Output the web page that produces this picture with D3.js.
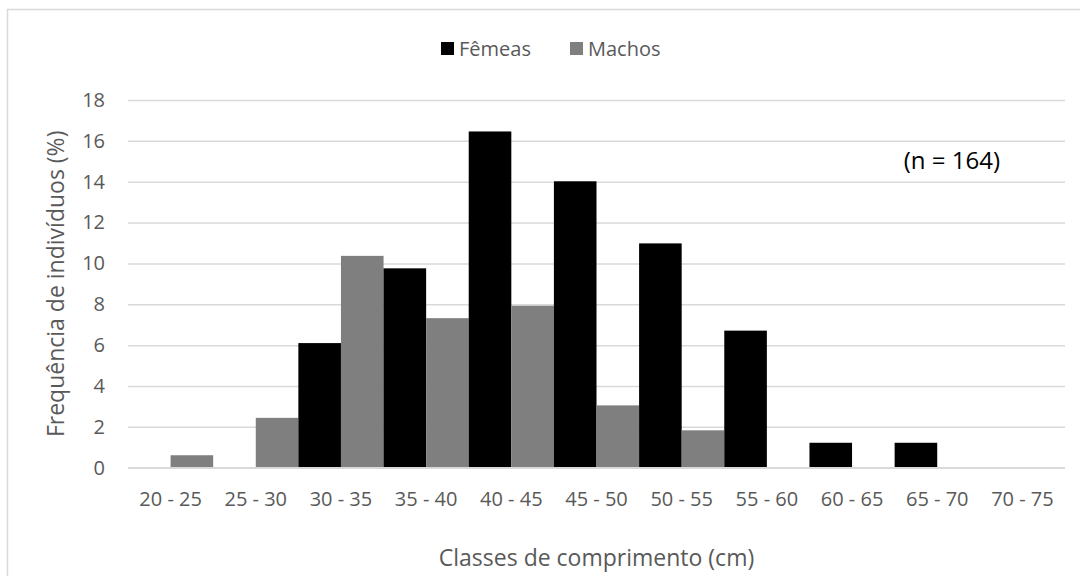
<!DOCTYPE html>
<html>
<head>
<meta charset="utf-8">
<script src="https://cdn.jsdelivr.net/npm/d3@7"></script>
<style>
  html, body { margin: 0; padding: 0; background: #fff; }
  svg { display: block; font-family: "Open Sans", sans-serif; }
</style>
</head>
<body>
<svg id="chart" width="1080" height="576"></svg>
<script>
const categories = ["20 - 25", "25 - 30", "30 - 35", "35 - 40", "40 - 45", "45 - 50", "50 - 55", "55 - 60", "60 - 65", "65 - 70", "70 - 75"];
const femeas = [0, 0, 6.10, 9.76, 16.46, 14.02, 10.98, 6.71, 1.22, 1.22, 0];
const machos = [0.61, 2.44, 10.37, 7.32, 7.93, 3.05, 1.83, 0, 0, 0, 0];
const seriesNames = ["Fêmeas", "Machos"];
const seriesColors = ["#000000", "#7f7f7f"];
const yTicks = [0, 2, 4, 6, 8, 10, 12, 14, 16, 18];
const yTitle = "Frequência de indivíduos (%)";
const xTitle = "Classes de comprimento (cm)";
const note = "(n = 164)";

(function () {
const svg = d3.select("#chart");
const textColor = "#595959";
const gridColor = "#d9d9d9";

// outer chart border (only top & left visible in the reference)
svg.append("rect").attr("x", 7.5).attr("y", 9.5).attr("width", 1200).attr("height", 700)
  .attr("fill", "none").attr("stroke", gridColor).attr("stroke-width", 1.5);

const pLeft = 128, pRight = 1065, pTop = 100, pBottom = 467.7;

const x = d3.scaleBand().domain(categories).range([pLeft, pRight]).paddingInner(0).paddingOuter(0);
const xs = d3.scaleBand().domain(seriesNames).range([0, x.bandwidth()]).padding(0);
const y = d3.scaleLinear().domain([0, 18]).range([pBottom, pTop]);

// gridlines
const yAxis = d3.axisLeft(y).tickValues(yTicks).tickSize(-(pRight - pLeft)).tickPadding(23).tickFormat(d3.format("d"));
const gy = svg.append("g").attr("transform", `translate(${pLeft},0)`).call(yAxis);
gy.select(".domain").remove();
gy.selectAll(".tick line").attr("stroke", gridColor).attr("stroke-width", 1.5);
gy.selectAll(".tick text").attr("fill", textColor).attr("font-size", 20).attr("font-family", "Open Sans");

// bars
const data = categories.map((c, i) => ({ cat: c, values: [femeas[i], machos[i]] }));
const groups = svg.append("g").selectAll("g").data(data).join("g")
  .attr("transform", d => `translate(${x(d.cat)},0)`);
groups.selectAll("rect").data(d => d.values.map((v, j) => ({ v, s: seriesNames[j], c: seriesColors[j] })))
  .join("rect")
  .attr("x", d => xs(d.s))
  .attr("width", xs.bandwidth())
  .attr("y", d => y(d.v))
  .attr("height", d => y(0) - y(d.v))
  .attr("fill", d => d.c);

// baseline gridline
svg.append("line").attr("x1", pLeft).attr("x2", pRight).attr("y1", y(0)).attr("y2", y(0))
  .attr("stroke", gridColor).attr("stroke-width", 1.5);

// x axis labels
const xAxis = d3.axisBottom(x).tickSize(0).tickPadding(24);
const gx = svg.append("g").attr("transform", `translate(0,${pBottom})`).call(xAxis);
gx.select(".domain").remove();
gx.selectAll(".tick text").attr("fill", textColor).attr("font-size", 20).attr("font-family", "Open Sans");

// axis titles
svg.append("text").attr("x", (pLeft + pRight) / 2).attr("y", 566).attr("text-anchor", "middle")
  .attr("fill", textColor).attr("font-size", 23).text(xTitle);
svg.append("text").attr("transform", `translate(64,${(pTop + pBottom) / 2}) rotate(-90)`)
  .attr("text-anchor", "middle").attr("fill", textColor).attr("font-size", 23).text(yTitle);

// note
svg.append("text").attr("x", 1000).attr("y", 169).attr("text-anchor", "end")
  .attr("fill", "#000").attr("font-size", 24).text(note);

// legend
const legendItems = [
  { name: seriesNames[0], color: seriesColors[0], x: 441 },
  { name: seriesNames[1], color: seriesColors[1], x: 570 }
];
const lg = svg.append("g").selectAll("g").data(legendItems).join("g").attr("transform", d => `translate(${d.x},0)`);
lg.append("rect").attr("x", 0).attr("y", 42).attr("width", 13).attr("height", 13).attr("fill", d => d.color);
lg.append("text").attr("x", 18).attr("y", 56).attr("fill", textColor).attr("font-size", 20).text(d => d.name);
})();
</script>
</body>
</html>
